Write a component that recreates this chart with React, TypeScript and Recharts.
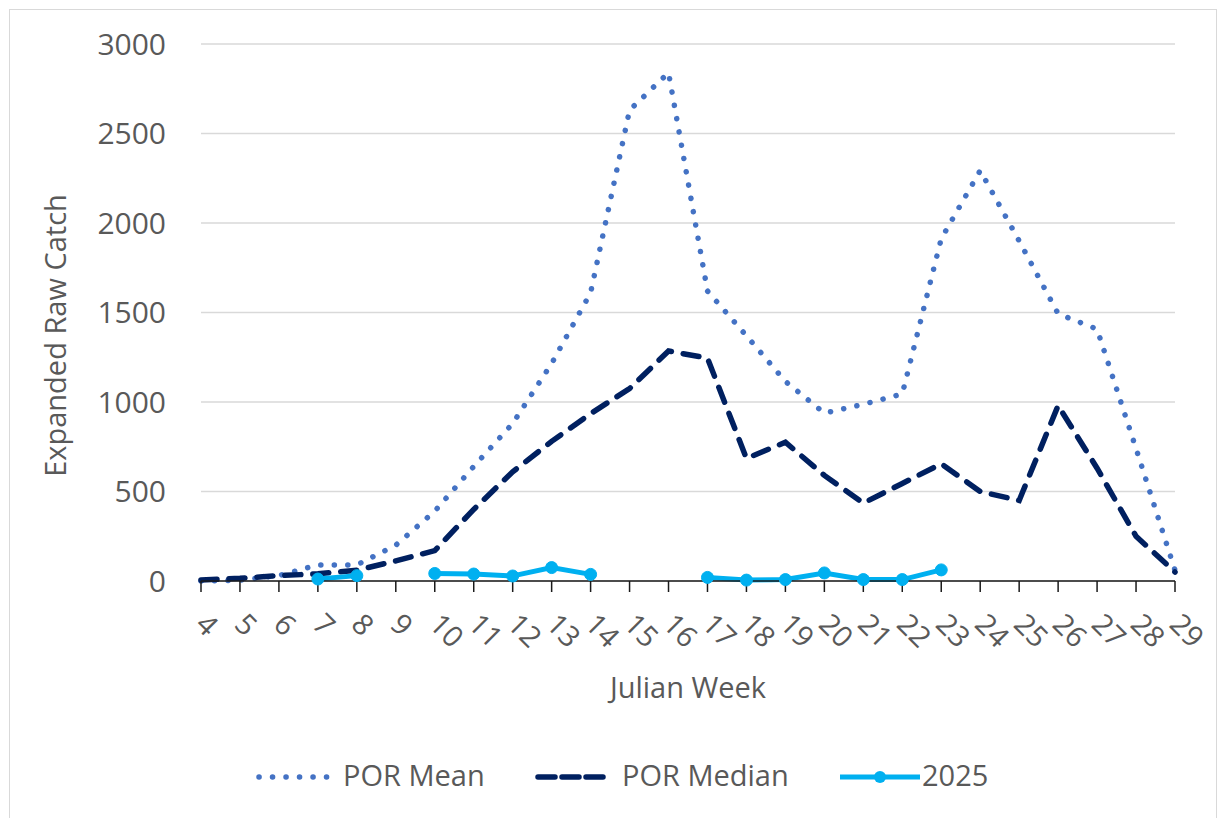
import { CartesianGrid, Legend, Line, LineChart, XAxis, YAxis } from "recharts";

const weeks = [
  "4", "5", "6", "7", "8", "9", "10", "11", "12", "13", "14", "15", "16",
  "17", "18", "19", "20", "21", "22", "23", "24", "25", "26", "27", "28", "29",
];
const porMean = [
  0, 5, 30, 90, 90, 200, 390, 640, 880, 1215, 1610, 2630, 2840,
  1620, 1370, 1115, 938, 987, 1045, 1912, 2293, 1900, 1493, 1407, 740, 60,
];
const porMedian = [
  5, 15, 30, 40, 60, 112, 170, 400, 610, 780, 935, 1075, 1285,
  1245, 685, 775, 590, 435, 545, 655, 500, 450, 980, 630, 250, 50,
];
const catch2025: (number | null)[] = [
  null, null, null, 11, 30, null, 42, 39, 28, 75, 37, null, null,
  20, 5, 8, 45, 8, 8, 62, null, null, null, null, null, null,
];
const yTicks = [0, 500, 1000, 1500, 2000, 2500, 3000];

const data = weeks.map((week, i) => ({
  week,
  mean: porMean[i],
  median: porMedian[i],
  y2025: catch2025[i],
}));

const FONT = "'Open Sans', sans-serif";
const TEXT = "#595959";

const MEAN_COLOR = "#4472C4";
const MEDIAN_COLOR = "#002060";
const C2025_COLOR = "#00B0F0";

function XTick(props: any) {
  const { x, y, payload } = props;
  const ax = x - 7;
  const ay = y + 32;
  return (
    <text
      x={ax}
      y={ay}
      transform={`rotate(45, ${ax}, ${ay})`}
      textAnchor="start"
      fill={TEXT}
      fontSize={29}
      fontFamily={FONT}
    >
      {payload.value}
    </text>
  );
}

function YTitle(props: any) {
  const vb = props.viewBox;
  const cx = vb.x + 46;
  const cy = vb.y + vb.height / 2 + 23;
  return (
    <text
      x={cx}
      y={cy}
      dy="0.35em"
      transform={`rotate(-90, ${cx}, ${cy})`}
      textAnchor="middle"
      fill={TEXT}
      fontSize={29}
      fontFamily={FONT}
    >
      Expanded Raw Catch
    </text>
  );
}

function XTitle(props: any) {
  const vb = props.viewBox;
  return (
    <text
      x={vb.x + vb.width / 2}
      y={688 - 0}
      textAnchor="middle"
      fill={TEXT}
      fontSize={29}
      fontFamily={FONT}
    >
      Julian Week
    </text>
  );
}

function LegendBox() {
  const ly = 32;
  const ty = 41;
  return (
    <svg width={1206} height={60} style={{ display: "block" }}>
      {/* POR Mean */}
      <line
        x1={249}
        y1={ly}
        x2={317}
        y2={ly}
        stroke={MEAN_COLOR}
        strokeWidth={5.5}
        strokeDasharray="0.1 13.4"
        strokeLinecap="round"
      />
      <text x={333} y={ty} fill={TEXT} fontSize={29} fontFamily={FONT}>
        POR Mean
      </text>
      {/* POR Median */}
      <line
        x1={528}
        y1={ly}
        x2={594}
        y2={ly}
        stroke={MEDIAN_COLOR}
        strokeWidth={5.5}
        strokeDasharray="17 7"
        strokeLinecap="round"
      />
      <text x={612} y={ty} fill={TEXT} fontSize={29} fontFamily={FONT}>
        POR Median
      </text>
      {/* 2025 */}
      <line x1={830} y1={ly} x2={910} y2={ly} stroke={C2025_COLOR} strokeWidth={5} />
      <circle cx={870} cy={ly} r={6} fill={C2025_COLOR} />
      <text x={912} y={ty} fill={TEXT} fontSize={29} fontFamily={FONT}>
        2025
      </text>
    </svg>
  );
}

export default function App() {
  return (
    <div
      style={{
        position: "fixed",
        left: 9,
        top: 9,
        width: 1206,
        height: 820,
        border: "1px solid #d9d9d9",
        background: "#fff",
      }}
    >
      <LineChart
        width={1206}
        height={800}
        data={data}
        margin={{ top: 34, right: 41, left: 0, bottom: 104 }}
      >
        <CartesianGrid vertical={false} stroke="#d9d9d9" strokeWidth={1.5} />
        <XAxis
          dataKey="week"
          interval={0}
          height={125}
          tickSize={11}
          tickMargin={2}
          axisLine={{ stroke: "#1a1a1a", strokeWidth: 1.5 }}
          tickLine={{ stroke: "#1a1a1a", strokeWidth: 1.5 }}
          tick={<XTick />}
          label={{ value: "Julian Week", content: <XTitle /> }}
        />
        <YAxis
          domain={[0, 3000]}
          ticks={yTicks}
          width={191}
          axisLine={false}
          tickLine={false}
          tickSize={0}
          tickMargin={35}
          tick={{ fill: TEXT, fontSize: 30, fontFamily: FONT }}
          label={{ value: "Expanded Raw Catch", content: <YTitle /> }}
        />
        <Legend
          layout="horizontal"
          verticalAlign="middle"
          align="center"
          wrapperStyle={{ top: 735, left: 0, width: 1206 }}
          content={() => <LegendBox />}
        />
        <Line
          dataKey="mean"
          name="POR Mean"
          type="linear"
          stroke={MEAN_COLOR}
          strokeWidth={5.5}
          strokeDasharray="0.1 13.4"
          strokeLinecap="round"
          dot={false}
          activeDot={false}
          isAnimationActive={false}
        />
        <Line
          dataKey="median"
          name="POR Median"
          type="linear"
          stroke={MEDIAN_COLOR}
          strokeWidth={5.5}
          strokeDasharray="16 12"
          strokeLinecap="round"
          dot={false}
          activeDot={false}
          isAnimationActive={false}
        />
        <Line
          dataKey="y2025"
          name="2025"
          type="linear"
          stroke={C2025_COLOR}
          strokeWidth={5}
          dot={{ r: 6, fill: C2025_COLOR, stroke: C2025_COLOR, strokeWidth: 1 }}
          activeDot={false}
          isAnimationActive={false}
        />
      </LineChart>
    </div>
  );
}
